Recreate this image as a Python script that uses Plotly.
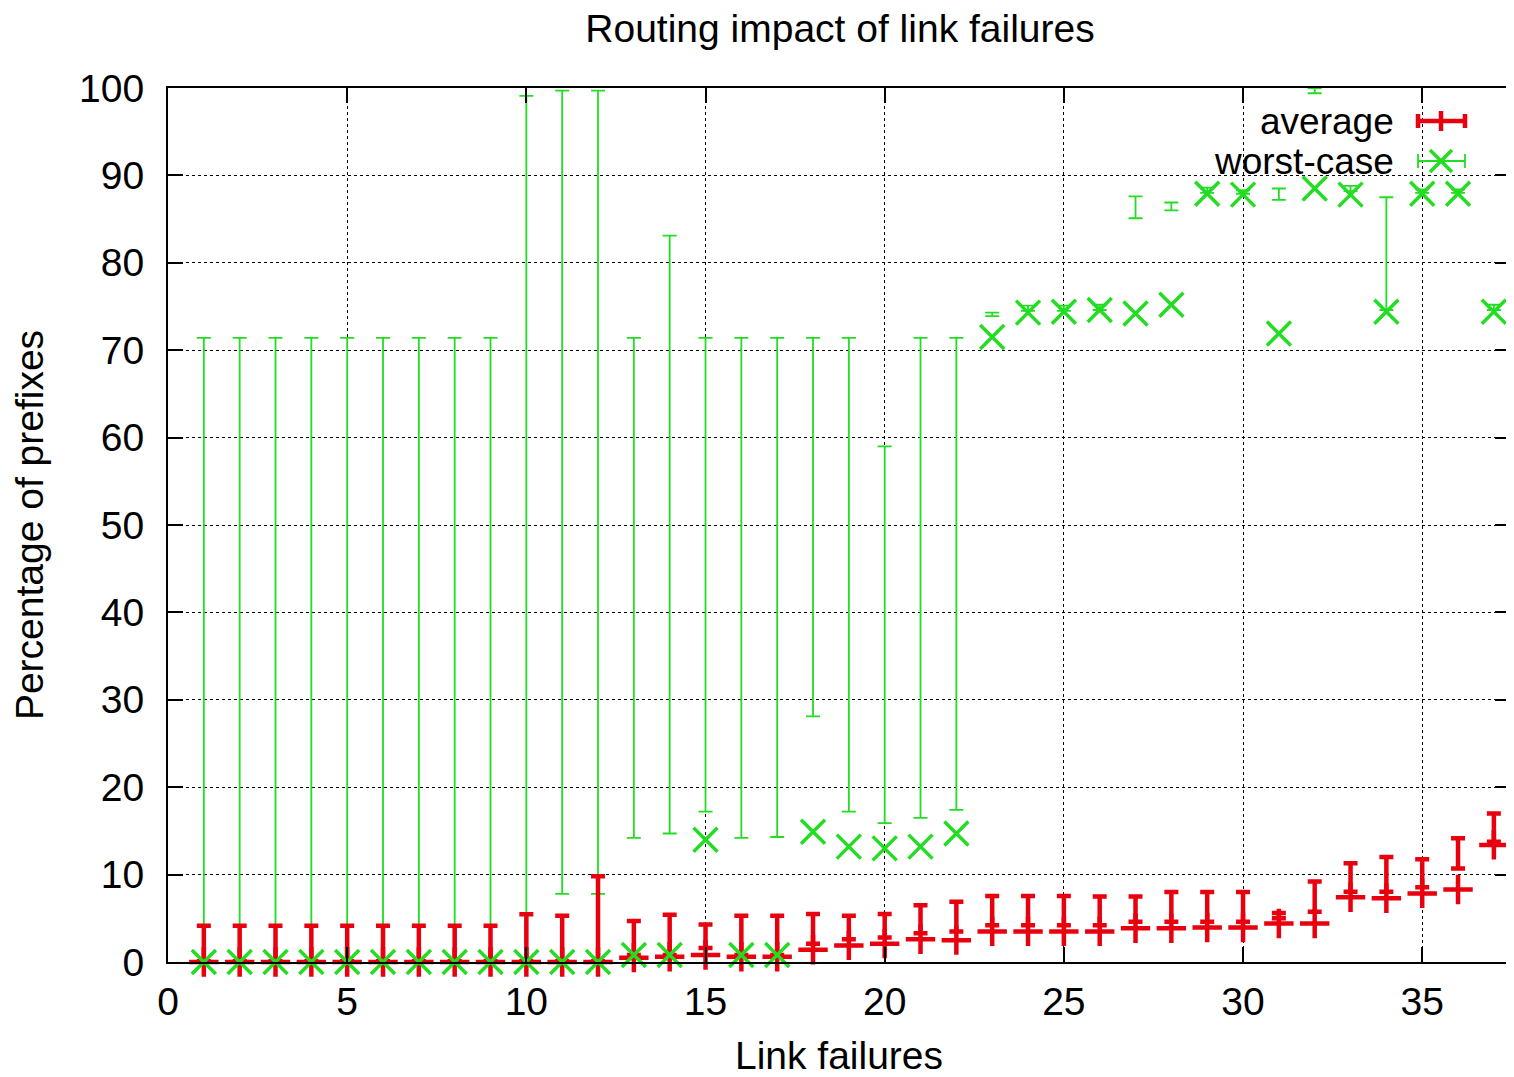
import plotly.graph_objects as go

# ---------------- data ----------------
link_failures = list(range(1, 38))

avg_point = [0.0] * 12 + [0.5, 0.6, 0.8, 0.6, 0.6, 1.4, 1.9, 2.1, 2.6, 2.5,
                          3.5, 3.5, 3.5, 3.5, 3.85, 3.85, 3.95, 3.95, 4.4, 4.4,
                          7.4, 7.3, 7.85, 8.3, 13.4]
avg_low = [0.1] * 12 + [0.8, 0.8, 1.6, 0.8, 0.8, 2.1, 2.6, 2.8, 3.3, 3.5,
                        4.2, 4.2, 4.2, 4.2, 4.6, 4.6, 4.6, 4.6, 5.0, 5.75,
                        8.05, 8.05, 8.55, 10.7, 13.75]
avg_high = [4.15] * 9 + [5.45, 5.3, 9.8, 4.7, 5.4, 4.3, 5.3, 5.3, 5.5, 5.3, 5.5,
                         6.5, 6.9, 7.55, 7.55, 7.55, 7.5, 7.5, 8.0, 8.0, 8.0,
                         5.6, 9.2, 11.3, 12.0, 11.75, 14.15, 17.0]

wc_point = [0.0] * 12 + [0.8, 0.8, 14.0, 0.8, 0.8, 14.9, 13.2, 13.0, 13.2, 14.7,
                         71.5, 74.3, 74.4, 74.6, 74.2, 75.2, 87.9, 87.8, 71.9, 88.5,
                         87.8, 74.4, 87.9, 87.9, 74.4]
wc_low = [0.0] * 10 + [7.8, 7.8, 14.2, 14.7, 17.2, 14.2, 14.3, 28.1, 17.2, 15.9,
                       16.5, 17.4, 73.9, 74.5, 74.5, 74.6, 85.1, 86.0, 88.0, 87.9,
                       87.2, 99.4, 88.2, 74.6, 88.0, 88.0, 74.6]
wc_high = [71.4] * 9 + [99.1, 99.7, 99.7, 71.4, 83.1, 71.4, 71.4, 71.4, 71.4, 71.4,
                        59.0, 71.4, 71.4, 74.3, 75.1, 75.1, 75.2, 87.6, 86.9, 88.6,
                        88.3, 88.5, 100.0, 88.8, 87.5, 88.4, 88.4, 75.2]

series_names = ["average", "worst-case"]
x_ticks = [0, 5, 10, 15, 20, 25, 30, 35]
y_ticks = [0, 10, 20, 30, 40, 50, 60, 70, 80, 90, 100]

# ---------------- style ----------------
RED = "#e8000e"
GREEN = "#22dd22"
FONT = "Liberation Sans, Arial, sans-serif"
FS = 39
KEY_FS = 37

BODY = 8                      # default page margin of the html body
PAGE_W, PAGE_H = 1514, 1077
W, H = PAGE_W - BODY, PAGE_H - BODY
# plot area in page pixels: x 168..1510, y 88..962
ML, MT = 168 - BODY, 88 - BODY
MR = W - (1510 - BODY)
MB = H - (962 - BODY)
PW, PH = W - ML - MR, H - MT - MB


def px_x(p):
    """page pixel x -> paper x"""
    return (p - BODY - ML) / PW


def px_y(p):
    """page pixel y -> paper y"""
    return (H - MB - (p - BODY)) / PH


fig = go.Figure()

# worst-case error bars (low -> high)
fig.add_trace(go.Scatter(
    x=link_failures, y=wc_low, mode="markers",
    marker=dict(size=1, color="rgba(0,0,0,0)"),
    error_y=dict(type="data", symmetric=False,
                 array=[h - l for h, l in zip(wc_high, wc_low)],
                 arrayminus=[0] * len(wc_low),
                 color=GREEN, thickness=1.8, width=7),
    showlegend=False, hoverinfo="skip", cliponaxis=False))

# average error bars
fig.add_trace(go.Scatter(
    x=link_failures, y=avg_low, mode="markers",
    marker=dict(size=1, color="rgba(0,0,0,0)"),
    error_y=dict(type="data", symmetric=False,
                 array=[h - l for h, l in zip(avg_high, avg_low)],
                 arrayminus=[0] * len(avg_low),
                 color=RED, thickness=4.5, width=7),
    showlegend=False, hoverinfo="skip", cliponaxis=False))

# average points
fig.add_trace(go.Scatter(
    x=link_failures, y=avg_point, mode="markers", name=series_names[0],
    marker=dict(symbol="cross-thin", size=21, color=RED,
                line=dict(color=RED, width=4.5)),
    showlegend=False, cliponaxis=False))

# worst-case points
fig.add_trace(go.Scatter(
    x=link_failures, y=wc_point, mode="markers", name=series_names[1],
    marker=dict(symbol="x-thin", size=24, color=GREEN,
                line=dict(color=GREEN, width=3.5)),
    showlegend=False, cliponaxis=False))

# ---------------- gnuplot-style key (text right, sample right) ----------------
key_rows = [(121, RED, 4.5, "average"), (161, GREEN, 1.8, "worst-case")]
shapes = []
annotations = []
gx0, gx1, gxc = 1418, 1465, 1441
for yc, col, lw, label in key_rows:
    annotations.append(dict(x=px_x(1396), y=px_y(yc), xref="paper", yref="paper",
                            text=label, showarrow=False, xanchor="right",
                            yanchor="middle",
                            font=dict(family=FONT, size=KEY_FS, color="black")))
    line = dict(color=col, width=lw)
    shapes.append(dict(type="line", xref="paper", yref="paper",
                       x0=px_x(gx0), x1=px_x(gx1), y0=px_y(yc), y1=px_y(yc), line=line))
    for gx in (gx0, gx1):
        shapes.append(dict(type="line", xref="paper", yref="paper",
                           x0=px_x(gx), x1=px_x(gx), y0=px_y(yc - 7), y1=px_y(yc + 7), line=line))
    if label == "average":
        shapes.append(dict(type="line", xref="paper", yref="paper",
                           x0=px_x(gxc), x1=px_x(gxc), y0=px_y(yc - 10), y1=px_y(yc + 10),
                           line=dict(color=col, width=4.5)))
    else:
        for a, b in ((-11, 11), (11, -11)):
            shapes.append(dict(type="line", xref="paper", yref="paper",
                               x0=px_x(gxc - 11), x1=px_x(gxc + 11),
                               y0=px_y(yc + a), y1=px_y(yc + b),
                               line=dict(color=col, width=3.5)))

axis_common = dict(
    showline=True, linecolor="black", linewidth=2, mirror="ticks",
    ticks="inside", ticklen=15, tickwidth=2, tickcolor="black",
    showgrid=True, gridcolor="black", gridwidth=1.3, griddash="3px,3px",
    zeroline=False, automargin=False,
    tickfont=dict(family=FONT, size=FS, color="black"),
)

fig.update_layout(
    width=W, height=H,
    margin=dict(l=ML, r=MR, t=MT, b=MB, pad=0),
    paper_bgcolor="white", plot_bgcolor="white",
    title=dict(text="Routing impact of link failures", x=(840 - BODY) / W,
               xanchor="center", y=1 - (28 - BODY) / H, yanchor="middle",
               xref="container", yref="container",
               font=dict(family=FONT, size=FS, color="black")),
    xaxis=dict(range=[0, 37.45], tickvals=x_ticks, ticklabelstandoff=4,
               title=dict(text="Link failures", standoff=28,
                          font=dict(family=FONT, size=FS, color="black")),
               **axis_common),
    yaxis=dict(range=[0, 100], tickvals=y_ticks, ticklabelstandoff=14,
               title=dict(text="Percentage of prefixes", standoff=26,
                          font=dict(family=FONT, size=FS, color="black")),
               **axis_common),
    shapes=shapes, annotations=annotations,
    showlegend=False,
)

fig.write_html("out.html")
